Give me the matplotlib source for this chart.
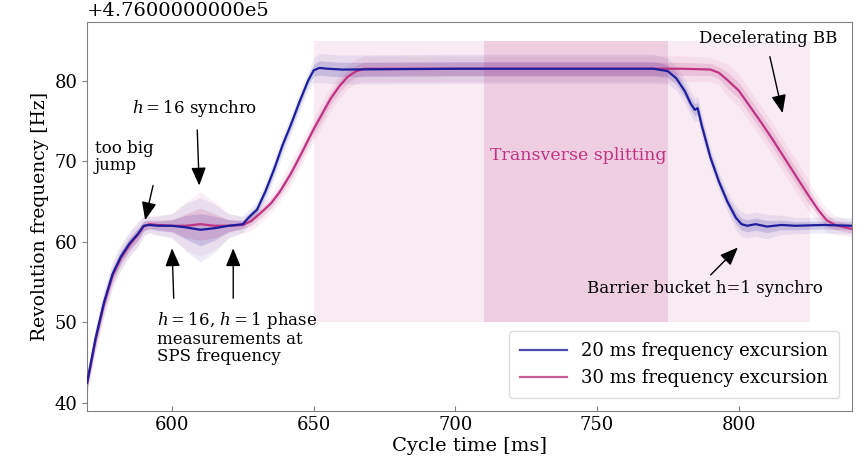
import matplotlib
matplotlib.use('Agg')
import matplotlib.pyplot as plt
import numpy as np

plt.rcParams['font.family'] = 'DejaVu Serif'
plt.rcParams['mathtext.fontset'] = 'dejavuserif'

# 20 ms frequency excursion (mean trace + spread of the shots), Hz above 4.76e5
t20 = [570, 573, 576, 579, 582, 585, 588, 590, 592, 595, 600, 605, 610, 615, 620, 625,
       627, 630, 633, 636, 639, 642, 645, 648, 650, 652, 655, 660, 700, 750, 770, 775,
       778, 781, 783, 784.5, 785.5, 787, 790, 793, 796, 799, 801, 803, 806, 810, 815,
       820, 830, 840]
f20 = [42.5, 48.0, 52.5, 56.0, 58.2, 59.8, 61.0, 62.0, 62.1, 62.0, 62.0, 61.8, 61.5, 61.7,
       62.0, 62.2, 63.0, 64.0, 66.3, 69.0, 72.0, 74.6, 77.4, 80.0, 81.3, 81.6, 81.5, 81.4,
       81.5, 81.5, 81.5, 81.2, 80.3, 78.7, 77.2, 76.4, 76.6, 74.4, 70.5, 67.5, 65.0, 63.0,
       62.2, 62.0, 62.2, 61.9, 62.1, 62.0, 62.1, 62.0]
s20 = [1.2, 1.5, 1.5, 1.5, 1.5, 1.5, 1.5, 1.2, 1.0, 1.2, 1.5, 3.0, 4.0, 3.0, 1.5, 1.0,
       1.0, 1.0, 1.2, 1.2, 1.2, 1.2, 1.2, 1.2, 1.5, 1.8, 1.8, 1.8, 1.8, 1.8, 1.8, 1.6,
       1.5, 1.5, 1.5, 1.5, 1.5, 1.5, 1.2, 1.2, 1.2, 1.5, 1.5, 1.5, 1.5, 1.5, 1.2,
       1.0, 1.0, 1.0]

# 30 ms frequency excursion
t30 = [570, 573, 576, 579, 582, 585, 588, 590, 592, 595, 600, 605, 610, 615, 620, 625,
       628, 631, 635, 638, 642, 646, 650, 653, 656, 659, 662, 665, 668, 700, 750, 780,
       790, 793, 796, 800, 804, 808, 812, 816, 820, 824, 828, 831, 834, 840]
f30 = [42.3, 47.8, 52.3, 55.8, 58.0, 59.6, 60.9, 61.9, 62.2, 62.1, 62.0, 62.0, 62.2, 62.0,
       62.0, 62.1, 62.6, 63.5, 64.8, 66.2, 68.5, 71.2, 74.0, 75.9, 77.8, 79.3, 80.5, 81.2,
       81.5, 81.5, 81.5, 81.5, 81.4, 81.0, 80.1, 78.8, 76.8, 74.8, 72.7, 70.5, 68.3, 66.1,
       64.0, 62.7, 62.1, 61.6]
s30 = [1.2, 1.5, 1.5, 1.5, 1.5, 1.5, 1.5, 1.2, 1.0, 1.2, 1.5, 3.0, 4.0, 3.0, 1.5, 1.0,
       1.2, 1.2, 1.2, 1.2, 1.5, 1.5, 1.5, 1.5, 1.5, 1.5, 1.5, 1.5, 1.6, 1.6, 1.6, 1.6,
       1.5, 1.5, 2.0, 2.0, 2.0, 2.0, 2.0, 2.0, 2.0, 2.0, 1.5, 1.5, 1.2, 1.0]

blue = '#1e1e9c'
mag = '#bf3482'

fig = plt.figure(figsize=(8.59, 4.59), dpi=100)
ax = fig.add_axes([0.1013, 0.1046, 0.8906, 0.8474])

# shaded cycle regions
ax.fill_between([650, 825], 50, 85, color='#c8418f', alpha=0.10, lw=0, zorder=0)
ax.fill_between([710, 775], 50, 85, color='#c8418f', alpha=0.17, lw=0, zorder=0)

for t, f, s, c in [(t20, f20, s20, blue), (t30, f30, s30, mag)]:
    t = np.array(t)
    f = np.array(f)
    s = np.array(s)
    ax.fill_between(t, f - s, f + s, color=c, alpha=0.08, lw=0, zorder=1)
    ax.fill_between(t, f - s / 2, f + s / 2, color=c, alpha=0.16, lw=0, zorder=1)

ax.plot(t20, f20, color=blue, lw=1.6, zorder=3, label='20 ms frequency excursion')
ax.plot(t30, f30, color=mag, lw=1.6, zorder=2, label='30 ms frequency excursion')

ax.set_xlim(570, 840)
ax.set_ylim(39, 87.3)
ax.set_xticks([600, 650, 700, 750, 800])
ax.set_yticks([40, 50, 60, 70, 80])
ax.tick_params(axis='x', direction='in', labelsize=13, color='#808080')
ax.tick_params(axis='y', direction='out', labelsize=13, color='#808080')
for sp in ax.spines.values():
    sp.set_color('#808080')
ax.set_xlabel('Cycle time [ms]', fontsize=14, labelpad=2)
ax.set_ylabel('Revolution frequency [Hz]', fontsize=13.5)
ax.text(0, 1.005, '+4.7600000000e5', transform=ax.transAxes, fontsize=14,
        ha='left', va='bottom')

arrow = dict(arrowstyle='-|>,head_width=0.45,head_length=1.1', color='black', lw=1,
             shrinkA=0, shrinkB=0)
fs = 12
ax.text(572.8, 72.6, 'too big\njump', fontsize=fs, va='top', ha='left', linespacing=1.0)
ax.annotate('', xy=(590.5, 62.7), xytext=(593.3, 67.0), arrowprops=arrow)

ax.text(608, 76.6, '$h = 16$ synchro', fontsize=fs, ha='center', va='center')
ax.annotate('', xy=(609.6, 67.0), xytext=(608.9, 73.9), arrowprops=arrow)

ax.text(594.7, 51.6, '$h=16$, $h=1$ phase\nmeasurements at\nSPS frequency',
        fontsize=fs, ha='left', va='top', linespacing=1.0)
ax.annotate('', xy=(600.0, 59.2), xytext=(600.6, 53.0), arrowprops=arrow)
ax.annotate('', xy=(621.6, 59.2), xytext=(621.6, 53.0), arrowprops=arrow)

ax.text(743.5, 70.7, 'Transverse splitting', fontsize=12.5, color=mag,
        ha='center', va='center')

ax.text(810.3, 85.2, 'Decelerating BB', fontsize=fs, ha='center', va='center')
ax.annotate('', xy=(815.5, 76.0), xytext=(811.0, 83.0), arrowprops=arrow)

ax.text(788, 54.2, 'Barrier bucket h=1 synchro', fontsize=fs, ha='center', va='center')
ax.annotate('', xy=(799.7, 59.3), xytext=(790.1, 55.9), arrowprops=arrow)

leg = ax.legend(loc='lower right', fontsize=13, framealpha=1, edgecolor='#dddddd',
                handlelength=2.6, borderpad=0.6, labelspacing=0.5,
                bbox_to_anchor=(0.995, 0.01))
for h in leg.get_lines():
    h.set_alpha(0.8)

fig.savefig('out.png', dpi=100)
